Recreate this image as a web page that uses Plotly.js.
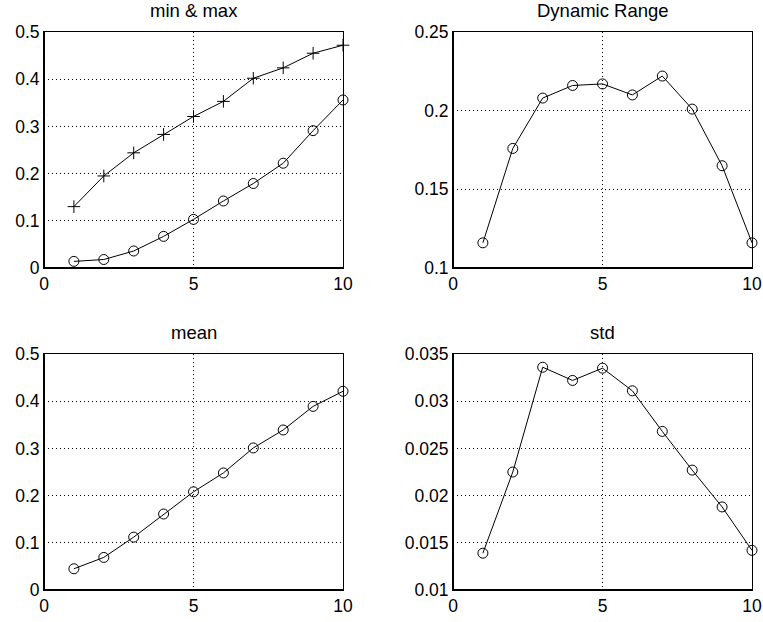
<!DOCTYPE html>
<html>
<head>
<meta charset="utf-8">
<script src="https://cdn.plot.ly/plotly-3.0.1.min.js"></script>
<style>html,body{margin:0;padding:0;background:#fff;}#chart{width:763px;height:622px;}</style>
</head>
<body>
<div id="chart"></div>
<script>
var xIndex = [1, 2, 3, 4, 5, 6, 7, 8, 9, 10];
var maxValues = [0.130, 0.195, 0.244, 0.283, 0.321, 0.353, 0.402, 0.424, 0.455, 0.472];
var minValues = [0.014, 0.018, 0.036, 0.067, 0.103, 0.142, 0.179, 0.222, 0.291, 0.356];
var dynRange = [0.116, 0.176, 0.208, 0.216, 0.217, 0.210, 0.222, 0.201, 0.165, 0.116];
var meanValues = [0.045, 0.069, 0.112, 0.161, 0.208, 0.248, 0.301, 0.339, 0.389, 0.421];
var stdValues = [0.0139, 0.0225, 0.0336, 0.0322, 0.0335, 0.0311, 0.0268, 0.0227, 0.0188, 0.0142];
var titles = ["min & max", "Dynamic Range", "mean", "std"];

var lineStyle = {color: "#000", width: 1};
function circ(x, y, xa, ya) {
  return {x: x, y: y, xaxis: xa, yaxis: ya, mode: "lines+markers", type: "scatter",
    line: lineStyle, marker: {symbol: "circle-open", size: 10, color: "#000", line: {width: 1, color: "#000"}},
    showlegend: false, hoverinfo: "skip", cliponaxis: false};
}
var traces = [
  {x: xIndex, y: maxValues, xaxis: "x", yaxis: "y", mode: "lines+markers", type: "scatter",
   line: lineStyle, marker: {symbol: "cross-thin-open", size: 9, color: "#000", line: {width: 1, color: "#000"}},
   showlegend: false, hoverinfo: "skip", cliponaxis: false},
  circ(xIndex, minValues, "x", "y"),
  circ(xIndex, dynRange, "x2", "y2"),
  circ(xIndex, meanValues, "x3", "y3"),
  circ(xIndex, stdValues, "x4", "y4")
];

var fam = "Liberation Sans, Arial, Helvetica, sans-serif";
var fnt = {family: fam, size: 17.5, color: "#000"};
function xax(dom, anchor) {
  return {domain: dom, anchor: anchor, range: [0, 10], tickvals: [0, 5, 10], ticktext: ["0", "5", "10"],
    showline: true, mirror: true, linecolor: "#000", linewidth: 1, ticks: "",
    showgrid: true, gridcolor: "#000", gridwidth: 1, griddash: "1px,3px", zeroline: false,
    tickfont: fnt, fixedrange: true};
}
function yax(dom, anchor, rng, vals, txt) {
  return {domain: dom, anchor: anchor, range: rng, tickvals: vals, ticktext: txt,
    showline: true, mirror: true, linecolor: "#000", linewidth: 1, ticks: "",
    showgrid: true, gridcolor: "#000", gridwidth: 1, griddash: "1px,3px", zeroline: false,
    tickfont: fnt, fixedrange: true};
}
var xL = [44/763, 343/763], xR = [453/763, 752/763];
var yT = [354/622, 590/622], yB = [32/622, 268/622];

var axPairs = [["x", "y"], ["x2", "y2"], ["x3", "y3"], ["x4", "y4"]];
var shapes = [];
axPairs.forEach(function(p){
  shapes.push({type: "line", xref: p[0] + " domain", yref: p[1] + " domain", x0: 0, x1: 0, y0: 0, y1: 1, line: {color: "#000", width: 2}});
  shapes.push({type: "line", xref: p[0] + " domain", yref: p[1] + " domain", x0: 0, x1: 1, y0: 0, y1: 0, line: {color: "#000", width: 2}});
});
var annotations = axPairs.map(function(p, i){
  return {text: titles[i], xref: p[0] + " domain", yref: p[1] + " domain", x: 0.5, y: 1, yshift: 9,
    yanchor: "bottom", showarrow: false, font: {family: fam, size: 18.5, color: "#000"}};
});

var layout = {
  width: 763, height: 622,
  margin: {l: 0, r: 0, t: 0, b: 0},
  paper_bgcolor: "#fff", plot_bgcolor: "#fff",
  xaxis: xax(xL, "y"),
  yaxis: yax(yT, "x", [0, 0.5], [0, 0.1, 0.2, 0.3, 0.4, 0.5], ["0", "0.1", "0.2", "0.3", "0.4", "0.5"]),
  xaxis2: xax(xR, "y2"),
  yaxis2: yax(yT, "x2", [0.1, 0.25], [0.1, 0.15, 0.2, 0.25], ["0.1", "0.15", "0.2", "0.25"]),
  xaxis3: xax(xL, "y3"),
  yaxis3: yax(yB, "x3", [0, 0.5], [0, 0.1, 0.2, 0.3, 0.4, 0.5], ["0", "0.1", "0.2", "0.3", "0.4", "0.5"]),
  xaxis4: xax(xR, "y4"),
  yaxis4: yax(yB, "x4", [0.01, 0.035], [0.01, 0.015, 0.02, 0.025, 0.03, 0.035], ["0.01", "0.015", "0.02", "0.025", "0.03", "0.035"]),
  shapes: shapes,
  annotations: annotations
};
Plotly.newPlot("chart", traces, layout, {staticPlot: true, displayModeBar: false});
</script>
</body>
</html>
